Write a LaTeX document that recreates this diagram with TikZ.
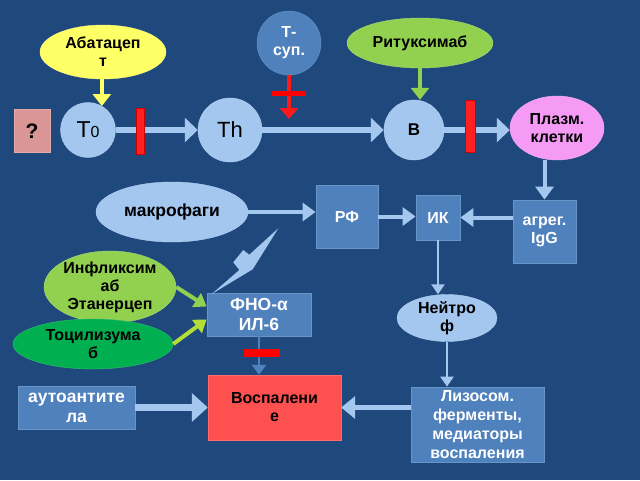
\documentclass[tikz,border=0pt]{standalone}
\usepackage{fontspec}
\setmainfont{Liberation Sans}
\usetikzlibrary{arrows.meta,shapes.geometric}
\definecolor{bg}{HTML}{1F497D}
\definecolor{mblue}{HTML}{4F81BD}
\definecolor{lblue}{HTML}{A3C7EF}
\definecolor{ygreen}{HTML}{92D050}
\definecolor{dgreen}{HTML}{00B050}
\definecolor{redbox}{HTML}{FF5050}
\definecolor{pinkc}{HTML}{F59BF5}
\definecolor{qcol}{HTML}{D99694}
\definecolor{yell}{HTML}{FFFF66}
\definecolor{rbarc}{HTML}{FF2020}
\tikzset{
  lab/.style={font=\fontsize{16}{18}\selectfont\bfseries, align=center, inner sep=1pt},
  biglab/.style={font=\fontsize{17.5}{20}\selectfont\bfseries},
  bx/.style={lab, rectangle, fill=mblue, draw=mblue!85!white, text=white, line width=0.8pt},
  cell/.style={circle, fill=lblue, draw=lblue!80!white, inner sep=0pt},
  ell/.style={lab, ellipse, inner sep=0pt, text=black},
  rbar/.style={rectangle, fill=rbarc, draw=red!80!black, line width=0.6pt, inner sep=0pt},
  bigarrow/.style={draw=lblue, line width=6pt, -{Triangle[width=24pt,length=13pt]}},
  midarrow/.style={draw=lblue, line width=4pt, -{Triangle[width=18pt,length=13pt]}},
  thinarrow/.style={draw=lblue, line width=2.5pt, -{Triangle[width=13pt,length=10pt]}},
}
\begin{document}
\begin{tikzpicture}[x=1pt,y=-1pt]
\useasboundingbox (0,0) rectangle (640,480);
\fill[bg] (0,0) rectangle (640,480);

% top row
\node[lab, rectangle, fill=qcol, draw=qcol!80!white, minimum width=36pt, minimum height=43pt,
      font=\fontsize{21}{21}\selectfont\bfseries] (q) at (32,131) {?};
\node[cell, minimum size=55pt, font=\fontsize{23}{23}\selectfont] (t0) at (88,130) {T{\fontsize{16}{16}\selectfont 0}};
\node[cell, minimum size=64pt, font=\fontsize{22}{22}\selectfont] (th) at (230,130) {Th};
\node[lab, circle, fill=mblue, draw=mblue!85!white, text=white, minimum size=64pt, inner sep=0pt] (tsup) at (289,43) {Т-\\суп.};
\node[cell, minimum size=60pt, font=\fontsize{17}{17}\selectfont\bfseries] (b) at (414,130) {В};
\node[ell, fill=pinkc, draw=pinkc!80!white, minimum width=94pt, minimum height=64pt] (pl) at (557,128) {Плазм.\\клетки};
\node[ell, fill=yell, draw=yell!80!white, minimum width=126pt, minimum height=54pt] (aba) at (103,52) {Абатацеп\\т};
\node[ell, fill=ygreen, draw=ygreen!80!white, minimum width=146pt, minimum height=50pt] (rit) at (420,43) {Ритуксимаб};

\node[rbar, minimum width=8pt, minimum height=46pt] (bar1) at (140,131) {};
\node[rbar, minimum width=10pt, minimum height=52pt] (bar2) at (470,126) {};
\coordinate (tsupend) at (289,119);

\draw[bigarrow] (t0) -- (th);
\draw[bigarrow] (th) -- (b);
\draw[bigarrow] (b.east) -- (b.east -| pl.west);
\node[rbar, minimum width=8pt, minimum height=46pt] at (bar1) {};
\node[rbar, minimum width=10pt, minimum height=52pt] at (bar2) {};

\draw[draw=yell, line width=4pt, -{Triangle[width=18pt,length=12pt]}] (t0.60 |- aba.south) -- (t0.60);
\draw[draw=ygreen, line width=4pt, -{Triangle[width=18pt,length=12pt]}] (rit.south) -- (rit.south |- b.north);
\draw[draw=red!90!white, line width=4pt, -{Triangle[width=18pt,length=11pt]}] (tsup.south) -- (tsupend);
\node[rectangle, fill=red, inner sep=0pt, minimum width=34pt, minimum height=5pt] (tsbar) at (289,93) {};

% middle
\node[bx, minimum width=63pt, minimum height=63pt] (agreg) at (544.5,231.5) {агрег.\\IgG};
\node[bx, minimum width=44pt, minimum height=45pt] (ik) at (438,217.5) {ИК};
\node[bx, minimum width=62pt, minimum height=63pt] (rf) at (347,216.5) {РФ};
\node[ell, biglab, fill=lblue, draw=lblue!80!white, minimum width=152pt, minimum height=60pt] (mak) at (172,212) {макрофаги};
\node[bx, biglab, minimum width=104pt, minimum height=43pt] (tnf) at (259,314.5) {ФНО-α\\ИЛ-6};
\node[ell, fill=ygreen, draw=ygreen!80!white, minimum width=132pt, minimum height=54pt] (infl) at (110,287) {Инфликсим\\аб\\Этанерцеп};
\node[ell, fill=dgreen, draw=dgreen!80!white, minimum width=160pt, minimum height=50pt] (toci) at (93,344) {Тоцилизума\\б};
\node[ell, fill=lblue, draw=lblue!80!white, minimum width=100pt, minimum height=44pt] (neut) at (447,318) {Нейтро\\ф};

% bottom
\node[bx, minimum width=133pt, minimum height=75pt, font=\fontsize{16}{19}\selectfont\bfseries] (lys) at (477.5,424.5) {Лизосом.\\ферменты,\\медиаторы\\воспаления};
\node[lab, rectangle, fill=redbox, draw=redbox!85!white, text=black, minimum width=133pt, minimum height=65pt] (vosp) at (274.5,407.5) {Воспалени\\е};
\node[bx, biglab, minimum width=117pt, minimum height=43pt] (auto) at (76.5,407.5) {аутоантите\\ла};

\draw[midarrow] (agreg.north |- pl.south) -- (agreg.north);
\draw[midarrow] (agreg.west |- ik.east) -- (ik.east);
\draw[midarrow] (rf.east) -- (rf.east -| ik.west);
\draw[midarrow] (mak.east) -- (mak.east -| rf.west);
\draw[thinarrow] (ik.south) -- (ik.south |- neut.north);
\draw[thinarrow] (neut.south) -- (neut.south |- lys.north);
\draw[draw=lblue, line width=5pt, -{Triangle[width=22pt,length=14pt]}] (lys.west |- vosp.east) -- (vosp.east);
\draw[draw=lblue, line width=7pt, -{Triangle[width=28pt,length=16pt]}] (auto) -- (vosp);
\draw[draw=mblue, line width=2.5pt, -{Triangle[width=14pt,length=10pt]}] (tnf.south) -- (tnf.south |- vosp.north);
\node[rectangle, fill=red, inner sep=0pt, minimum width=36pt, minimum height=8pt] (tnfbar) at (262,353) {};

\draw[draw=ygreen, line width=4pt, -{Triangle[width=16pt,length=12pt]}] (infl.east) -- ([yshift=8pt]tnf.west);
\draw[draw=ygreen!70!yellow, line width=4pt, -{Triangle[width=16pt,length=12pt]}] (toci.east) -- ([yshift=-5pt]tnf.west);

% lightning
\fill[lblue] (278.3,228.3) -- (252.7,269.3) -- (211.7,294) -- (239.3,270) -- (233.3,262.3) -- (243.3,250) -- (249.3,254.7) -- cycle;
\end{tikzpicture}
\end{document}
